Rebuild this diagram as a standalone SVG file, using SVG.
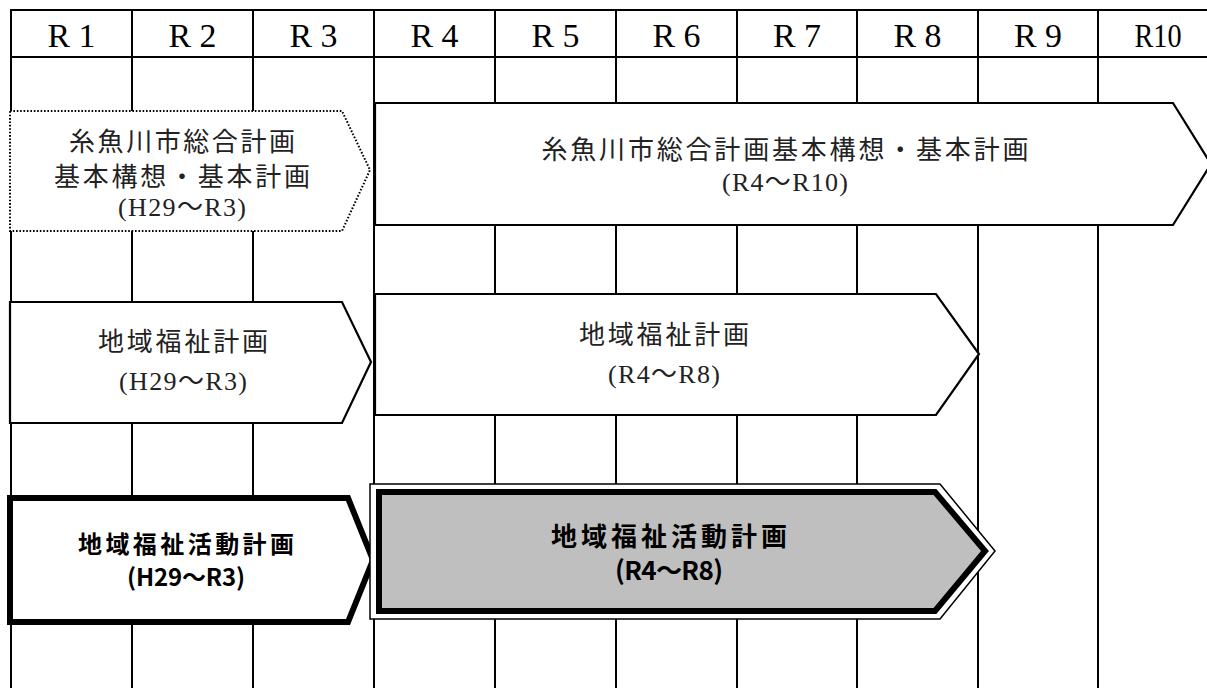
<svg xmlns="http://www.w3.org/2000/svg" width="1207" height="688" viewBox="0 0 1207 688">
  <style>
    .grid { stroke: #000; stroke-width: 2; fill: none; }
    .hdr { font-family: "Liberation Serif", serif; font-size: 33px; fill: #000; text-anchor: middle; }
    .jp { font-family: "Noto Sans CJK JP", sans-serif; font-size: 26px; fill: #222; text-anchor: middle; }
    .lat { font-family: "Liberation Serif", "Noto Sans CJK JP", serif; font-size: 26px; fill: #222; text-anchor: middle; }
    .bold { font-family: "Noto Sans CJK JP", sans-serif; font-weight: 700; fill: #000; text-anchor: middle; }
    .box { fill: #fff; stroke: #000; stroke-width: 2.2; stroke-linejoin: miter; }
  </style>
  <rect width="1207" height="688" fill="#fff"/>
  <g id="grid">
    <line class="grid" x1="10" y1="10" x2="1207" y2="10"/>
    <line class="grid" x1="10" y1="57" x2="1207" y2="57"/>
    <line class="grid" x1="11" y1="9" x2="11" y2="688"/>
    <line class="grid" x1="132" y1="10" x2="132" y2="688"/>
    <line class="grid" x1="253" y1="10" x2="253" y2="688"/>
    <line class="grid" x1="374" y1="10" x2="374" y2="688"/>
    <line class="grid" x1="495" y1="10" x2="495" y2="688"/>
    <line class="grid" x1="616" y1="10" x2="616" y2="688"/>
    <line class="grid" x1="737" y1="10" x2="737" y2="688"/>
    <line class="grid" x1="857" y1="10" x2="857" y2="688"/>
    <line class="grid" x1="978" y1="10" x2="978" y2="688"/>
    <line class="grid" x1="1098" y1="10" x2="1098" y2="688"/>
  </g>
  <g id="header">
    <text class="hdr" x="71.5" y="47" textLength="48" lengthAdjust="spacingAndGlyphs">R 1</text>
    <text class="hdr" x="192.5" y="47" textLength="48" lengthAdjust="spacingAndGlyphs">R 2</text>
    <text class="hdr" x="313.5" y="47" textLength="48" lengthAdjust="spacingAndGlyphs">R 3</text>
    <text class="hdr" x="434.5" y="47" textLength="48" lengthAdjust="spacingAndGlyphs">R 4</text>
    <text class="hdr" x="555.5" y="47" textLength="48" lengthAdjust="spacingAndGlyphs">R 5</text>
    <text class="hdr" x="676.5" y="47" textLength="48" lengthAdjust="spacingAndGlyphs">R 6</text>
    <text class="hdr" x="797" y="47" textLength="48" lengthAdjust="spacingAndGlyphs">R 7</text>
    <text class="hdr" x="917.5" y="47" textLength="48" lengthAdjust="spacingAndGlyphs">R 8</text>
    <text class="hdr" x="1038" y="47" textLength="48" lengthAdjust="spacingAndGlyphs">R 9</text>
    <text class="hdr" x="1158" y="47" textLength="47" lengthAdjust="spacingAndGlyphs">R10</text>
  </g>
  <g id="sogo-old">
    <polygon points="10,111 342,111 370,170 342,231 10,231" fill="#fff" stroke="#000" stroke-width="2" stroke-dasharray="1.6 1.8"/>
    <text class="jp" x="182" y="151" font-size="24" textLength="226" lengthAdjust="spacing">糸魚川市総合計画</text>
    <text class="jp" x="182" y="186" font-size="24" textLength="256" lengthAdjust="spacing">基本構想・基本計画</text>
    <text class="lat" x="182" y="216" textLength="128" lengthAdjust="spacing">(H29〜R3)</text>
  </g>
  <g id="sogo-new">
    <polygon class="box" points="375,103 1173,103 1211,164 1173,225 375,225" stroke-width="2.5"/>
    <text class="jp" x="785" y="159" textLength="487" lengthAdjust="spacing">糸魚川市総合計画基本構想・基本計画</text>
    <text class="lat" x="785" y="191" textLength="126" lengthAdjust="spacing">(R4〜R10)</text>
  </g>
  <g id="fukushi-old">
    <polygon class="box" points="10,302 342,302 371,362 342,423 10,423"/>
    <text class="jp" x="183" y="351" textLength="170" lengthAdjust="spacing">地域福祉計画</text>
    <text class="lat" x="183" y="390" textLength="128" lengthAdjust="spacing">(H29〜R3)</text>
  </g>
  <g id="fukushi-new">
    <polygon class="box" points="375,294 936,294 979,354 936,415 375,415" stroke-width="2.5"/>
    <text class="jp" x="664" y="344" textLength="170" lengthAdjust="spacing">地域福祉計画</text>
    <text class="lat" x="664" y="383" textLength="112" lengthAdjust="spacing">(R4〜R8)</text>
  </g>
  <g id="katsudo-old">
    <polygon points="10,498 348,498 373,560 348,622 10,622" fill="#fff" stroke="#000" stroke-width="6"/>
    <text class="bold" x="186" y="553" font-size="24" textLength="216" lengthAdjust="spacing">地域福祉活動計画</text>
    <text class="bold" x="186" y="586" font-size="24" textLength="118" lengthAdjust="spacing">(H29〜R3)</text>
  </g>
  <g id="katsudo-new">
    <polygon points="370,484 940,484 995,551 940,619 370,619" fill="#fff" stroke="#000" stroke-width="1.5"/>
    <polygon points="379,492 935,492 985,551 935,611 379,611" fill="#bfbfbf" stroke="#000" stroke-width="6"/>
    <text class="bold" x="669" y="546" font-size="26" textLength="236" lengthAdjust="spacing">地域福祉活動計画</text>
    <text class="bold" x="669" y="580" font-size="26" textLength="108" lengthAdjust="spacing">(R4〜R8)</text>
  </g>
</svg>
